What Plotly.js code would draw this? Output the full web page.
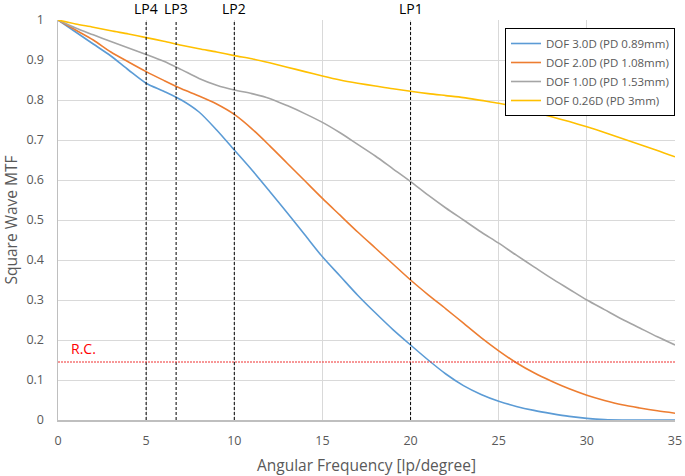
<!DOCTYPE html>
<html>
<head>
<meta charset="utf-8">
<script src="https://cdn.plot.ly/plotly-3.0.1.min.js"></script>
<style>html,body{margin:0;padding:0;background:#fff;}#chart{width:685px;height:476px;}</style>
</head>
<body>
<div id="chart"></div>
<script>
// Angular frequency samples [lp/degree]
const freq = [0,1,2,3,4,5,6,7,8,9,10,11,12,13,14,15,16,17,18,19,20,21,22,23,24,25,26,27,28,29,30,31,32,33,34,35];

// Series names
const seriesNames = ["DOF 3.0D (PD 0.89mm)", "DOF 2.0D (PD 1.08mm)", "DOF 1.0D (PD 1.53mm)", "DOF 0.26D (PD 3mm)"];

// Square wave MTF values
const dof30 = [1,0.97,0.94,0.91,0.875,0.842,0.822,0.80,0.77,0.725,0.675,0.625,0.572,0.518,0.463,0.408,0.36,0.312,0.268,0.226,0.1875,0.15,0.115,0.086,0.064,0.047,0.034,0.024,0.016,0.009,0.004,0.001,0,0,0,0];
const dof20 = [1,0.975,0.95,0.92,0.895,0.871,0.849,0.828,0.81,0.79,0.764,0.728,0.686,0.642,0.598,0.554,0.512,0.47,0.43,0.39,0.35,0.313,0.278,0.242,0.206,0.173,0.143,0.118,0.097,0.078,0.062,0.049,0.038,0.03,0.023,0.017];
const dof10 = [1,0.98,0.963,0.946,0.93,0.914,0.897,0.876,0.854,0.837,0.825,0.816,0.804,0.786,0.766,0.744,0.718,0.689,0.66,0.628,0.596,0.562,0.53,0.50,0.47,0.442,0.412,0.383,0.354,0.327,0.30,0.276,0.252,0.23,0.208,0.1875];
const dof026 = [1,0.99,0.982,0.973,0.965,0.956,0.947,0.937,0.928,0.92,0.911,0.903,0.893,0.882,0.871,0.86,0.85,0.842,0.835,0.828,0.822,0.816,0.811,0.806,0.799,0.792,0.782,0.77,0.758,0.746,0.733,0.719,0.704,0.689,0.674,0.658];

// Reference markers
const lpX = [20, 10, 6.7, 5];
const lpLabels = ["LP1", "LP2", "LP3", "LP4"];
const rcValue = 0.145;
const rcLabel = "R.C.";

// Axis ticks
const xTicks = [0,5,10,15,20,25,30,35];
const yTicks = [0,0.1,0.2,0.3,0.4,0.5,0.6,0.7,0.8,0.9,1];

const colors = ["#5B9BD5", "#ED7D31", "#A5A5A5", "#FFC000"];
const seriesData = [dof30, dof20, dof10, dof026];

const traces = seriesData.map((ys, i) => ({
  x: freq, y: ys, type: "scatter", mode: "lines", name: seriesNames[i],
  line: {color: colors[i], width: 1.6, shape: "spline", smoothing: 0.8}
}));

const shapes = lpX.map(x => ({
  type: "line", xref: "x", yref: "y", x0: x, x1: x, y0: 0, y1: 1,
  line: {color: "#000000", width: 1, dash: "3px,2px"}
}));
shapes.push({
  type: "line", xref: "x", yref: "y", x0: 0, x1: 35, y0: rcValue, y1: rcValue,
  line: {color: "#F03030", width: 1.2, dash: "2px,1px"}
});

const annotations = lpX.map((x, i) => ({
  x: x, y: 1, xref: "x", yref: "paper", text: lpLabels[i], showarrow: false,
  yanchor: "bottom", yshift: 0, font: {family: "Open Sans", size: 14, color: "#000000"}
}));
annotations.push({
  x: 0.6, y: rcValue, xref: "x", yref: "y", text: rcLabel, showarrow: false,
  xanchor: "left", yanchor: "bottom", yshift: 2, font: {family: "Open Sans", size: 14, color: "#FF0000"}
});

const layout = {
  width: 685, height: 476,
  margin: {l: 58, r: 10, t: 20, b: 56},
  paper_bgcolor: "#ffffff", plot_bgcolor: "#ffffff",
  font: {family: "Open Sans", color: "#595959", size: 12},
  xaxis: {
    range: [0, 35], tickvals: xTicks, ticktext: xTicks.map(String),
    showgrid: true, gridcolor: "#D9D9D9", gridwidth: 1,
    showline: true, linecolor: "#BFBFBF", linewidth: 1.5,
    zeroline: false, ticks: "", ticklabelstandoff: 8, automargin: false,
    tickfont: {size: 12.5, color: "#595959"},
    title: {text: "Angular Frequency [lp/degree]", font: {size: 15.5, color: "#595959"}, standoff: 12}
  },
  yaxis: {
    range: [0, 1], tickvals: yTicks, ticktext: yTicks.map(String),
    showgrid: true, gridcolor: "#D9D9D9", gridwidth: 1,
    showline: true, linecolor: "#BFBFBF", linewidth: 1.5,
    zeroline: false, ticks: "", ticklabelstandoff: 10, automargin: false,
    tickfont: {size: 12.5, color: "#595959"},
    title: {text: "Square Wave MTF", font: {size: 15.5, color: "#595959"}, standoff: 10}
  },
  showlegend: true,
  legend: {
    x: 1, y: 0.98, xanchor: "right", yanchor: "top",
    bgcolor: "#ffffff", bordercolor: "#000000", borderwidth: 1,
    font: {size: 11.5, color: "#595959"}, tracegroupgap: 0, itemwidth: 30
  },
  shapes: shapes,
  annotations: annotations
};

Plotly.newPlot("chart", traces, layout, {displayModeBar: false, staticPlot: true});
</script>
</body>
</html>
